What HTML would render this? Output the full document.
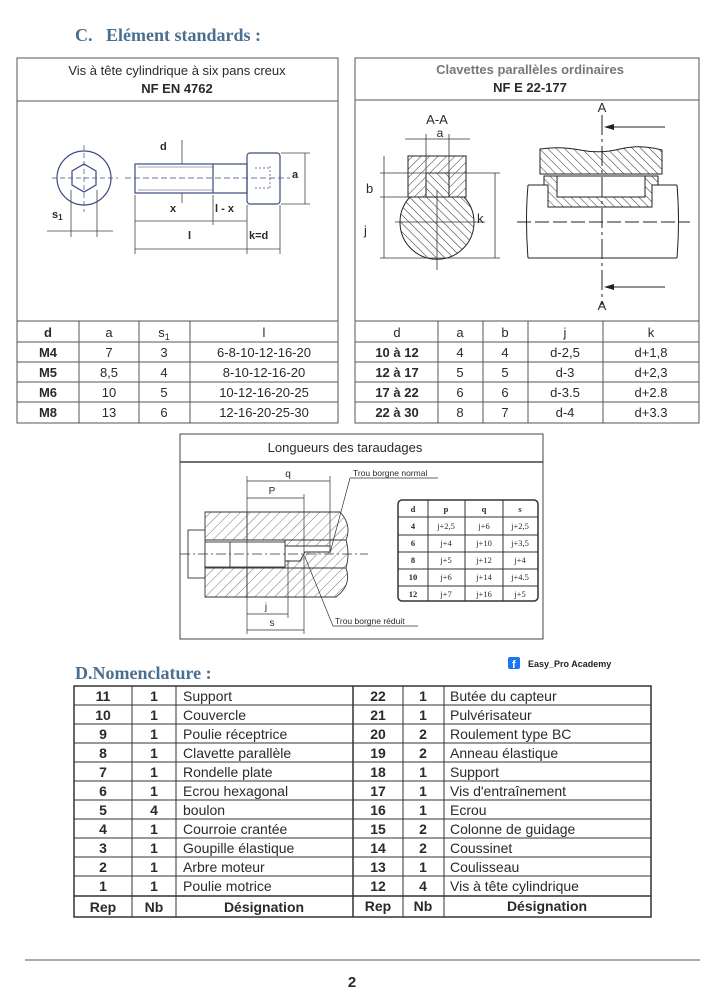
<!DOCTYPE html>
<html><head><meta charset="utf-8"><style>
html,body{margin:0;padding:0;background:#fff;}
svg{display:block}
text{font-family:"Liberation Sans",sans-serif;fill:#2a2a2a}
.ser{font-family:"Liberation Serif",serif}
</style></head><body>
<svg width="720" height="1000" viewBox="0 0 720 1000" xmlns="http://www.w3.org/2000/svg">
<defs>
<pattern id="h1" width="6" height="6" patternUnits="userSpaceOnUse" patternTransform="rotate(45)"><rect width="6" height="6" fill="#fff"/><line x1="0" y1="0" x2="0" y2="6" stroke="#333" stroke-width="1"/></pattern>
<pattern id="h2" width="6" height="6" patternUnits="userSpaceOnUse" patternTransform="rotate(-45)"><rect width="6" height="6" fill="#fff"/><line x1="0" y1="0" x2="0" y2="6" stroke="#333" stroke-width="1"/></pattern>
<pattern id="h3" width="7" height="7" patternUnits="userSpaceOnUse" patternTransform="rotate(45)"><rect width="7" height="7" fill="#fff"/><line x1="0" y1="0" x2="0" y2="7" stroke="#555" stroke-width="0.8"/></pattern>
</defs>
<rect width="720" height="1000" fill="#fff"/>
<text x="75" y="41" class="ser" font-size="18" font-weight="bold" style="fill:#4a6f8f" xml:space="preserve">C.   Elément standards :</text>

<!-- LEFT BOX -->
<g stroke="#555" fill="none" stroke-width="1">
<rect x="17" y="58" width="321" height="365"/>
<line x1="17" y1="101" x2="338" y2="101"/>
<line x1="17" y1="321" x2="338" y2="321"/>
<line x1="17" y1="342" x2="338" y2="342"/><line x1="17" y1="362" x2="338" y2="362"/><line x1="17" y1="382" x2="338" y2="382"/><line x1="17" y1="402" x2="338" y2="402"/>
<line x1="79" y1="321" x2="79" y2="423"/><line x1="139" y1="321" x2="139" y2="423"/><line x1="190" y1="321" x2="190" y2="423"/>
</g>
<text x="177" y="75" font-size="13" text-anchor="middle">Vis à tête cylindrique à six pans creux</text>
<text x="177" y="93" font-size="13" font-weight="bold" text-anchor="middle">NF EN 4762</text>
<g font-size="13" text-anchor="middle">
<text x="48" y="337" font-weight="bold">d</text><text x="109" y="337">a</text><text x="164" y="337">s<tspan font-size="9" dy="3">1</tspan></text><text x="264" y="337">l</text>
<text x="48" y="357" font-weight="bold">M4</text><text x="109" y="357">7</text><text x="164" y="357">3</text><text x="264" y="357">6-8-10-12-16-20</text>
<text x="48" y="377" font-weight="bold">M5</text><text x="109" y="377">8,5</text><text x="164" y="377">4</text><text x="264" y="377">8-10-12-16-20</text>
<text x="48" y="397" font-weight="bold">M6</text><text x="109" y="397">10</text><text x="164" y="397">5</text><text x="264" y="397">10-12-16-20-25</text>
<text x="48" y="417" font-weight="bold">M8</text><text x="109" y="417">13</text><text x="164" y="417">6</text><text x="264" y="417">12-16-20-25-30</text>
</g>
<!-- bolt drawing -->
<g stroke="#3d4a80" fill="none" stroke-width="1.2">
<circle cx="84" cy="178" r="27"/>
<polygon points="84,164 96,171 96,185 84,192 72,185 72,171"/>
<line x1="84" y1="145" x2="84" y2="212" stroke-dasharray="5,3" stroke-width="0.7"/>
<line x1="52" y1="178" x2="118" y2="178" stroke-dasharray="5,3" stroke-width="0.7"/>
<rect x="135" y="164" width="112" height="29"/>
<line x1="213" y1="164" x2="213" y2="193"/>
<line x1="138" y1="167" x2="213" y2="167" stroke-width="0.6"/><line x1="138" y1="190" x2="213" y2="190" stroke-width="0.6"/>
<rect x="247" y="153" width="33" height="51" rx="3"/>
<line x1="125" y1="178" x2="290" y2="178" stroke-dasharray="6,3" stroke-width="0.7"/>
<path d="M255 168 h15 M255 188 h15 M270 166 v24" stroke-dasharray="2,2" stroke-width="0.7"/>
</g>
<g stroke="#444" stroke-width="0.8" fill="none">
<line x1="71" y1="190" x2="71" y2="237"/><line x1="97" y1="190" x2="97" y2="237"/>
<line x1="47" y1="231" x2="113" y2="231"/>
<line x1="182" y1="140" x2="182" y2="164"/><line x1="182" y1="193" x2="182" y2="203"/>
<line x1="281" y1="153" x2="310" y2="153"/><line x1="281" y1="204" x2="310" y2="204"/>
<line x1="305" y1="153" x2="305" y2="204"/>
<line x1="135" y1="195" x2="135" y2="254"/><line x1="213" y1="195" x2="213" y2="225"/><line x1="247" y1="205" x2="247" y2="254"/><line x1="280" y1="205" x2="280" y2="254"/>
<line x1="135" y1="221" x2="247" y2="221"/>
<line x1="135" y1="249" x2="280" y2="249"/>
</g>
<text x="52" y="218" font-size="11" font-weight="bold">s<tspan font-size="8" dy="2">1</tspan></text>
<text x="160" y="150" font-size="11" font-weight="bold">d</text>
<text x="170" y="212" font-size="11" font-weight="bold">x</text>
<text x="215" y="212" font-size="11" font-weight="bold">l - x</text>
<text x="292" y="178" font-size="11" font-weight="bold">a</text>
<text x="188" y="239" font-size="11" font-weight="bold">l</text>
<text x="249" y="239" font-size="11" font-weight="bold">k=d</text>

<!-- RIGHT BOX -->
<g stroke="#555" fill="none" stroke-width="1">
<rect x="355" y="58" width="344" height="365"/>
<line x1="355" y1="100" x2="699" y2="100"/>
<line x1="355" y1="321" x2="699" y2="321"/>
<line x1="355" y1="342" x2="699" y2="342"/><line x1="355" y1="362" x2="699" y2="362"/><line x1="355" y1="382" x2="699" y2="382"/><line x1="355" y1="402" x2="699" y2="402"/>
<line x1="438" y1="321" x2="438" y2="423"/><line x1="483" y1="321" x2="483" y2="423"/><line x1="528" y1="321" x2="528" y2="423"/><line x1="603" y1="321" x2="603" y2="423"/>
</g>
<text x="530" y="74" font-size="13" font-weight="bold" text-anchor="middle" style="fill:#777">Clavettes parallèles ordinaires</text>
<text x="530" y="92" font-size="13" font-weight="bold" text-anchor="middle">NF E 22-177</text>
<g font-size="13" text-anchor="middle">
<text x="397" y="337">d</text><text x="460" y="337">a</text><text x="505" y="337">b</text><text x="565" y="337">j</text><text x="651" y="337">k</text>
<text x="397" y="357" font-weight="bold">10 à 12</text><text x="460" y="357">4</text><text x="505" y="357">4</text><text x="565" y="357">d-2,5</text><text x="651" y="357">d+1,8</text>
<text x="397" y="377" font-weight="bold">12 à 17</text><text x="460" y="377">5</text><text x="505" y="377">5</text><text x="565" y="377">d-3</text><text x="651" y="377">d+2,3</text>
<text x="397" y="397" font-weight="bold">17 à 22</text><text x="460" y="397">6</text><text x="505" y="397">6</text><text x="565" y="397">d-3.5</text><text x="651" y="397">d+2.8</text>
<text x="397" y="417" font-weight="bold">22 à 30</text><text x="460" y="417">8</text><text x="505" y="417">7</text><text x="565" y="417">d-4</text><text x="651" y="417">d+3.3</text>
</g>
<!-- keyway section -->
<g stroke="#222" stroke-width="1">
<path d="M408 156 L466 156 L466 197 L408 197 Z" fill="url(#h1)"/>
<path d="M410 197 A37 37 0 1 0 464 197 Z" fill="url(#h2)"/>
<rect x="426" y="173" width="23" height="24" fill="url(#h2)"/>
</g>
<g stroke="#333" stroke-width="0.8" fill="none">
<line x1="426" y1="134" x2="426" y2="173"/><line x1="449" y1="134" x2="449" y2="173"/>
<line x1="405" y1="139" x2="470" y2="139"/>
<line x1="380" y1="173" x2="500" y2="173"/><line x1="380" y1="197" x2="410" y2="197"/>
<line x1="380" y1="258" x2="500" y2="258"/>
<line x1="384" y1="156" x2="384" y2="258"/><line x1="495" y1="173" x2="495" y2="258"/>
<line x1="395" y1="222" x2="485" y2="222"/><line x1="437" y1="190" x2="437" y2="270"/>
</g>
<text x="437" y="124" font-size="13" text-anchor="middle">A-A</text>
<text x="440" y="137" font-size="12" text-anchor="middle">a</text>
<text x="366" y="193" font-size="13">b</text>
<text x="364" y="235" font-size="13">j</text>
<text x="477" y="223" font-size="13">k</text>
<!-- right view -->
<g stroke="#222" stroke-width="1">
<path d="M540 149 Q560 146 580 150 T620 149 T662 150 L662 174 L540 174 Z" fill="url(#h2)"/>
<line x1="528" y1="185" x2="677" y2="185"/><line x1="528" y1="258" x2="677" y2="258"/>
<path d="M528 185 Q525 220 528 258 M677 185 Q680 220 677 258" fill="none"/>
<path d="M544 176 L658 176 L658 185 L652 185 L652 207 L548 207 L548 185 L544 185 Z" fill="url(#h2)"/>
<rect x="557" y="176" width="88" height="21" fill="#fff"/>
</g>
<g stroke="#222" stroke-width="1" fill="none">
<line x1="517" y1="222" x2="690" y2="222" stroke-dasharray="14,4"/>
<line x1="602" y1="115" x2="602" y2="305" stroke-dasharray="20,4,3,4"/>
<line x1="610" y1="127" x2="665" y2="127"/><line x1="610" y1="287" x2="665" y2="287"/>
</g>
<path d="M604 127 l10 -3 v6z M604 287 l10 -3 v6z" fill="#222"/>
<text x="602" y="112" font-size="13" text-anchor="middle">A</text>
<text x="602" y="310" font-size="13" text-anchor="middle">A</text>

<!-- TAPPING BOX -->
<g stroke="#444" fill="none" stroke-width="1">
<rect x="180" y="434" width="363" height="205"/>
<line x1="180" y1="462" x2="543" y2="462" stroke-width="1.5"/>
</g>
<text x="345" y="452" font-size="13" text-anchor="middle">Longueurs des taraudages</text>
<g stroke="#333" stroke-width="0.9">
<path d="M205 512 L340 512 Q352 525 346 540 L205 540 Z" fill="url(#h3)"/>
<path d="M205 568 L346 568 Q352 585 336 597 L205 597 Z" fill="url(#h3)"/>
<path d="M285 540 L346 540 Q350 554 346 568 L285 568 Z" fill="url(#h3)"/>
<path d="M285 546 L330 546 L330 552 L305 552 L300 561 L285 561 Z" fill="#fff"/>
<rect x="188" y="530" width="17" height="48" fill="#fff"/>
<rect x="205" y="542" width="80" height="25" fill="#fff"/>
<line x1="230" y1="542" x2="230" y2="567"/>
<line x1="247" y1="512" x2="247" y2="540"/><line x1="247" y1="568" x2="247" y2="597"/>
</g>
<g stroke="#333" stroke-width="0.7" fill="none">
<line x1="180" y1="554" x2="368" y2="554" stroke-dasharray="10,3,2,3"/>
<line x1="247" y1="476" x2="247" y2="634"/><line x1="330" y1="476" x2="330" y2="548"/><line x1="304" y1="494" x2="304" y2="634"/><line x1="288" y1="560" x2="288" y2="618"/>
<line x1="247" y1="481" x2="330" y2="481"/><line x1="247" y1="498" x2="304" y2="498"/><line x1="247" y1="614" x2="288" y2="614"/><line x1="247" y1="630" x2="304" y2="630"/>
<line x1="350" y1="478" x2="330" y2="553"/><line x1="350" y1="478" x2="438" y2="478"/>
<line x1="333" y1="626" x2="305" y2="557"/><line x1="333" y1="626" x2="418" y2="626"/>
</g>
<text x="288" y="477" font-size="10" text-anchor="middle">q</text>
<text x="272" y="494" font-size="10" text-anchor="middle">P</text>
<text x="266" y="610" font-size="10" text-anchor="middle">j</text>
<text x="272" y="626" font-size="10" text-anchor="middle">s</text>
<text x="353" y="476" font-size="8.5">Trou borgne normal</text>
<text x="335" y="624" font-size="8.5">Trou borgne réduit</text>
<g stroke="#333" fill="none" stroke-width="1">
<rect x="398" y="500" width="140" height="101" rx="4" stroke-width="1.5"/>
<line x1="398" y1="517" x2="538" y2="517"/><line x1="398" y1="535" x2="538" y2="535"/><line x1="398" y1="552" x2="538" y2="552"/><line x1="398" y1="569" x2="538" y2="569"/><line x1="398" y1="586" x2="538" y2="586"/>
<line x1="428" y1="500" x2="428" y2="601"/><line x1="465" y1="500" x2="465" y2="601"/><line x1="503" y1="500" x2="503" y2="601"/>
</g>
<g font-size="8.5" text-anchor="middle" class="ser">
<text x="413" y="512" font-weight="bold" class="ser">d</text><text x="446" y="512" font-weight="bold" class="ser">p</text><text x="484" y="512" font-weight="bold" class="ser">q</text><text x="520" y="512" font-weight="bold" class="ser">s</text>
<text x="413" y="529" font-weight="bold" class="ser">4</text><text x="446" y="529" class="ser">j+2,5</text><text x="484" y="529" class="ser">j+6</text><text x="520" y="529" class="ser">j+2,5</text>
<text x="413" y="546" font-weight="bold" class="ser">6</text><text x="446" y="546" class="ser">j+4</text><text x="484" y="546" class="ser">j+10</text><text x="520" y="546" class="ser">j+3,5</text>
<text x="413" y="563" font-weight="bold" class="ser">8</text><text x="446" y="563" class="ser">j+5</text><text x="484" y="563" class="ser">j+12</text><text x="520" y="563" class="ser">j+4</text>
<text x="413" y="580" font-weight="bold" class="ser">10</text><text x="446" y="580" class="ser">j+6</text><text x="484" y="580" class="ser">j+14</text><text x="520" y="580" class="ser">j+4.5</text>
<text x="413" y="597" font-weight="bold" class="ser">12</text><text x="446" y="597" class="ser">j+7</text><text x="484" y="597" class="ser">j+16</text><text x="520" y="597" class="ser">j+5</text>
</g>

<!-- NOMENCLATURE -->
<text x="75" y="679" class="ser" font-size="18" font-weight="bold" style="fill:#4a6f8f">D.Nomenclature :</text>
<rect x="508" y="657" width="12" height="12" rx="2" fill="#1877f2"/>
<text x="512" y="668" font-size="11" font-weight="bold" style="fill:#fff">f</text>
<text x="528" y="667" font-size="9" font-weight="bold" style="fill:#222">Easy_Pro Academy</text>
<g stroke="#333" fill="none" stroke-width="1">
<rect x="74" y="686" width="577" height="231" stroke-width="1.5"/>
<line x1="74" y1="705" x2="651" y2="705"/><line x1="74" y1="724" x2="651" y2="724"/><line x1="74" y1="743" x2="651" y2="743"/><line x1="74" y1="762" x2="651" y2="762"/><line x1="74" y1="781" x2="651" y2="781"/><line x1="74" y1="800" x2="651" y2="800"/><line x1="74" y1="819" x2="651" y2="819"/><line x1="74" y1="838" x2="651" y2="838"/><line x1="74" y1="857" x2="651" y2="857"/><line x1="74" y1="876" x2="651" y2="876"/>
<line x1="74" y1="896" x2="651" y2="896" stroke-width="1.5"/>
<line x1="132" y1="686" x2="132" y2="917"/><line x1="176" y1="686" x2="176" y2="917"/><line x1="353" y1="686" x2="353" y2="917" stroke-width="1.5"/><line x1="403" y1="686" x2="403" y2="917"/><line x1="444" y1="686" x2="444" y2="917"/>
</g>
<g font-size="14">
<g font-weight="bold" text-anchor="middle">
<text x="103" y="701">11</text><text x="103" y="720">10</text><text x="103" y="739">9</text><text x="103" y="758">8</text><text x="103" y="777">7</text><text x="103" y="796">6</text><text x="103" y="815">5</text><text x="103" y="834">4</text><text x="103" y="853">3</text><text x="103" y="872">2</text><text x="103" y="891">1</text>
<text x="154" y="701">1</text><text x="154" y="720">1</text><text x="154" y="739">1</text><text x="154" y="758">1</text><text x="154" y="777">1</text><text x="154" y="796">1</text><text x="154" y="815">4</text><text x="154" y="834">1</text><text x="154" y="853">1</text><text x="154" y="872">1</text><text x="154" y="891">1</text>
<text x="378" y="701">22</text><text x="378" y="720">21</text><text x="378" y="739">20</text><text x="378" y="758">19</text><text x="378" y="777">18</text><text x="378" y="796">17</text><text x="378" y="815">16</text><text x="378" y="834">15</text><text x="378" y="853">14</text><text x="378" y="872">13</text><text x="378" y="891">12</text>
<text x="423" y="701">1</text><text x="423" y="720">1</text><text x="423" y="739">2</text><text x="423" y="758">2</text><text x="423" y="777">1</text><text x="423" y="796">1</text><text x="423" y="815">1</text><text x="423" y="834">2</text><text x="423" y="853">2</text><text x="423" y="872">1</text><text x="423" y="891">4</text>
<text x="103" y="912">Rep</text><text x="154" y="912">Nb</text><text x="264" y="912">Désignation</text>
<text x="378" y="911">Rep</text><text x="423" y="911">Nb</text><text x="547" y="911">Désignation</text>
</g>
<g>
<text x="183" y="701">Support</text><text x="183" y="720">Couvercle</text><text x="183" y="739">Poulie réceptrice</text><text x="183" y="758">Clavette parallèle</text><text x="183" y="777">Rondelle plate</text><text x="183" y="796">Ecrou hexagonal</text><text x="183" y="815">boulon</text><text x="183" y="834">Courroie crantée</text><text x="183" y="853">Goupille élastique</text><text x="183" y="872">Arbre moteur</text><text x="183" y="891">Poulie motrice</text>
<text x="450" y="701">Butée du capteur</text><text x="450" y="720">Pulvérisateur</text><text x="450" y="739">Roulement type BC</text><text x="450" y="758">Anneau élastique</text><text x="450" y="777">Support</text><text x="450" y="796">Vis d'entraînement</text><text x="450" y="815">Ecrou</text><text x="450" y="834">Colonne de guidage</text><text x="450" y="853">Coussinet</text><text x="450" y="872">Coulisseau</text><text x="450" y="891">Vis à tête cylindrique</text>
</g>
</g>

<line x1="25" y1="960" x2="700" y2="960" stroke="#555" stroke-width="1"/>
<text x="352" y="987" font-size="15" font-weight="bold" text-anchor="middle">2</text>
</svg>
</body></html>
